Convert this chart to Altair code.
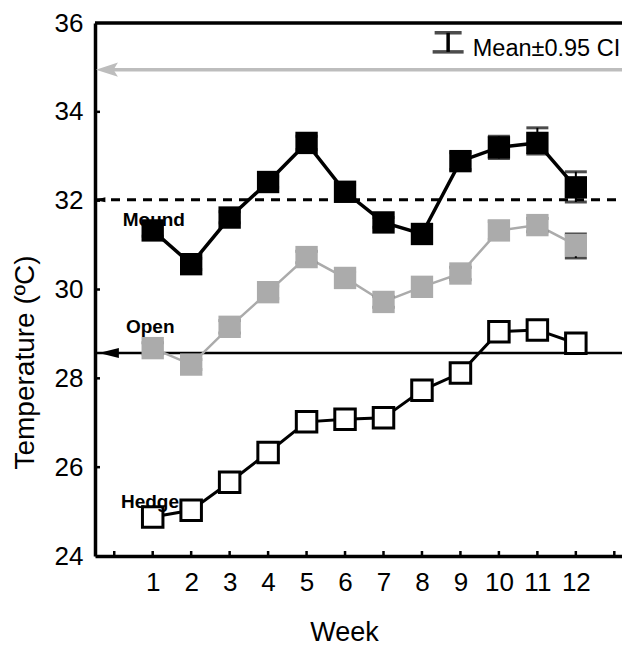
import altair as alt
import pandas as pd

weeks = list(range(1, 13))
mound = [31.33, 30.57, 31.62, 32.42, 33.30, 32.20, 31.51, 31.25, 32.89, 33.20, 33.30, 32.30]
mound_lo = [31.20, 30.45, 31.50, 32.30, 33.15, 32.05, 31.40, 31.12, 32.70, 32.95, 33.05, 31.97]
mound_hi = [31.46, 30.70, 31.75, 32.55, 33.45, 32.35, 31.62, 31.38, 33.08, 33.45, 33.64, 32.65]
open_ = [28.68, 28.31, 29.16, 29.94, 30.73, 30.26, 29.72, 30.06, 30.36, 31.33, 31.45, 31.00]
open_lo = [28.55, 28.20, 29.02, 29.80, 30.60, 30.13, 29.60, 29.92, 30.22, 31.13, 31.30, 30.71]
open_hi = [28.80, 28.42, 29.30, 30.08, 30.86, 30.39, 29.84, 30.20, 30.50, 31.53, 31.60, 31.25]
hedge = [24.88, 25.03, 25.66, 26.33, 27.02, 27.08, 27.11, 27.73, 28.12, 29.05, 29.09, 28.79]

ref_gray = 34.95      # grey arrow line
ref_dashed = 32.02    # dashed line (mound reference)
ref_solid = 28.57     # solid line (open reference)

y_ticks = [24, 26, 28, 30, 32, 34, 36]
x_ticks = list(range(0, 14))

W, H = 527, 533
XDOM = [-0.5, 13.2]
YDOM = [24, 36]
FONT = "Liberation Sans"

xs = alt.Scale(domain=XDOM, nice=False, zero=False)
ys = alt.Scale(domain=YDOM, nice=False, zero=False)

df = pd.DataFrame({
    "week": weeks,
    "mound": mound, "mound_lo": mound_lo, "mound_hi": mound_hi,
    "open": open_, "open_lo": open_lo, "open_hi": open_hi,
    "hedge": hedge,
})

base = alt.Chart(df)

x_axis = alt.Axis(
    values=weeks, ticks=False, grid=False, domainWidth=3.5, domainColor="black",
    labelFontSize=26, labelFont=FONT, labelColor="black", labelPadding=13,
    title="Week", titleFontSize=27, titleFont=FONT, titleFontWeight="normal",
    titleColor="black", titleX=249, titleY=84, titleBaseline="alphabetic",
)
y_axis = alt.Axis(
    values=y_ticks, ticks=False, grid=False, domainWidth=3.5, domainColor="black",
    labelFontSize=26, labelFont=FONT, labelColor="black", labelPadding=12,
    title="Temperature (ºC)", titleFontSize=28, titleFont=FONT, titleFontWeight="normal",
    titleColor="black", titleX=-62, titleY=339, titleBaseline="alphabetic", titleAngle=-90,
)

axes = base.mark_point(opacity=0).encode(
    x=alt.X("week:Q", scale=xs, axis=x_axis),
    y=alt.Y("mound:Q", scale=ys, axis=y_axis),
)

top_border = alt.Chart(pd.DataFrame({"y": [YDOM[1]]})).mark_rule(
    color="black", strokeWidth=3.5
).encode(y=alt.Y("y:Q", scale=ys), x=alt.value(0), x2=alt.value(W))

ytick_df = pd.DataFrame({"y": y_ticks[1:-1]})
yticks = alt.Chart(ytick_df).mark_rule(color="black", strokeWidth=2.5).encode(
    y=alt.Y("y:Q", scale=ys), x=alt.value(0), x2=alt.value(5)
)
xtick_df = pd.DataFrame({"x": x_ticks})
xticks = alt.Chart(xtick_df).mark_rule(color="black", strokeWidth=2.5).encode(
    x=alt.X("x:Q", scale=xs), y=alt.value(H), y2=alt.value(H - 5)
)

gray_line = alt.Chart(pd.DataFrame({"y": [ref_gray]})).mark_rule(
    color="#bdbdbd", strokeWidth=3.5
).encode(y=alt.Y("y:Q", scale=ys), x=alt.value(8), x2=alt.value(W))
dash_line = alt.Chart(pd.DataFrame({"y": [ref_dashed]})).mark_rule(
    color="black", strokeWidth=3, strokeDash=[9, 7]
).encode(y=alt.Y("y:Q", scale=ys), x=alt.value(0), x2=alt.value(W))
solid_line = alt.Chart(pd.DataFrame({"y": [ref_solid]})).mark_rule(
    color="black", strokeWidth=2.5
).encode(y=alt.Y("y:Q", scale=ys), x=alt.value(0), x2=alt.value(W))

arrow_df = pd.DataFrame({"x": [-0.19], "y": [ref_gray]})
gray_arrow = alt.Chart(arrow_df).mark_point(
    shape="M-1,0L1,-0.64L0.6,0L1,0.64Z", filled=True, opacity=1,
    color="#bdbdbd", size=484, strokeWidth=0
).encode(x=alt.X("x:Q", scale=xs), y=alt.Y("y:Q", scale=ys))

barrow_df = pd.DataFrame({"x": [-0.14], "y": [ref_solid]})
black_arrow = alt.Chart(barrow_df).mark_point(
    shape="M-1,0L1,-0.5L1,0.5Z", filled=True, opacity=1,
    color="black", size=400, strokeWidth=0
).encode(x=alt.X("x:Q", scale=xs), y=alt.Y("y:Q", scale=ys))

darrow_df = pd.DataFrame({"x": [-0.36], "y": [ref_dashed]})
dash_arrow = alt.Chart(darrow_df).mark_point(
    shape="M-1,0L1,-0.5L1,0.5Z", filled=True, opacity=1,
    color="black", size=100, strokeWidth=0
).encode(x=alt.X("x:Q", scale=xs), y=alt.Y("y:Q", scale=ys))

SQ = 500

def series(col, color, fill, lo=None, hi=None, lw=3):
    layers = []
    layers.append(base.mark_line(color=color, strokeWidth=lw).encode(
        x=alt.X("week:Q", scale=xs), y=alt.Y(f"{col}:Q", scale=ys)))
    if lo is not None:
        layers.append(base.mark_rule(color="black", strokeWidth=2).encode(
            x=alt.X("week:Q", scale=xs), y=alt.Y(f"{lo}:Q", scale=ys), y2=f"{hi}:Q"))
        for c in (lo, hi):
            layers.append(base.mark_tick(color="black", orient="horizontal", size=22, thickness=3).encode(
                x=alt.X("week:Q", scale=xs), y=alt.Y(f"{c}:Q", scale=ys)))
    if fill == "white":
        layers.append(base.mark_point(shape="square", filled=True, fill="white", stroke="black",
                                      strokeWidth=3, opacity=1, size=420).encode(
            x=alt.X("week:Q", scale=xs), y=alt.Y(f"{col}:Q", scale=ys)))
    else:
        layers.append(base.mark_point(shape="square", filled=True, color=fill, opacity=1,
                                      size=SQ).encode(
            x=alt.X("week:Q", scale=xs), y=alt.Y(f"{col}:Q", scale=ys)))
    return layers

mound_layers = series("mound", "black", "black", "mound_lo", "mound_hi", lw=3.5)
open_layers = series("open", "#ababab", "#ababab", "open_lo", "open_hi", lw=2.5)
hedge_layers = series("hedge", "black", "white", lw=3)

lab_df = pd.DataFrame({
    "x": [0.22, 0.305, 0.175],
    "y": [31.42, 29.03, 25.09],
    "t": ["Mound", "Open", "Hedge"],
})
labels = alt.Chart(lab_df).mark_text(
    align="left", baseline="alphabetic", fontSize=19, fontWeight="bold", font=FONT, color="black"
).encode(x=alt.X("x:Q", scale=xs), y=alt.Y("y:Q", scale=ys), text="t:N")

leg_x = 8.68
leg_lo, leg_hi = 35.35, 35.78
leg_df = pd.DataFrame({"x": [leg_x], "lo": [leg_lo], "hi": [leg_hi]})
leg_rule = alt.Chart(leg_df).mark_rule(color="black", strokeWidth=3.5).encode(
    x=alt.X("x:Q", scale=xs), y=alt.Y("lo:Q", scale=ys), y2="hi:Q")
leg_cap_lo = alt.Chart(leg_df).mark_tick(color="black", orient="horizontal", size=31, thickness=3.5).encode(
    x=alt.X("x:Q", scale=xs), y=alt.Y("lo:Q", scale=ys))
leg_cap_hi = alt.Chart(leg_df).mark_tick(color="black", orient="horizontal", size=27, thickness=3.5).encode(
    x=alt.X("x:Q", scale=xs), y=alt.Y("hi:Q", scale=ys))
leg_txt = alt.Chart(pd.DataFrame({"x": [9.32], "y": [35.26], "t": ["Mean±0.95 CI"]})).mark_text(
    align="left", baseline="alphabetic", fontSize=23.5, font=FONT, color="black"
).encode(x=alt.X("x:Q", scale=xs), y=alt.Y("y:Q", scale=ys), text="t:N")

chart = alt.layer(
    axes, gray_line, gray_arrow, dash_line, dash_arrow, solid_line, black_arrow,
    *hedge_layers, *open_layers, *mound_layers,
    labels, leg_rule, leg_cap_lo, leg_cap_hi, leg_txt,
    top_border, yticks, xticks,
).properties(
    width=W, height=H,
    autosize=alt.AutoSizeParams(type="none"),
    padding={"left": 87, "top": 15, "right": 0, "bottom": 89},
).configure_view(stroke=None).configure(background="white")

chart.save("out.html", embed_options={"renderer": "svg", "actions": False})
